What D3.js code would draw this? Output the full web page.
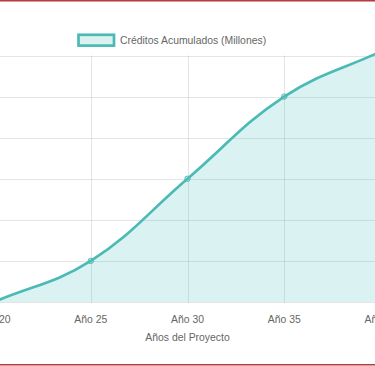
<html>

<head>
    <meta charset="utf-8">
    <script src="https://cdnjs.cloudflare.com/ajax/libs/d3/7.8.5/d3.min.js"></script>
    <style>
        body { margin: 0; background: #fff; }
        svg { display: block; }
    </style>
</head>

<body>
    <script>
        // data
        var years = ["Año 20", "Año 25", "Año 30", "Año 35", "Año 40"];
        var credits = [0, 10, 30, 50, 61];
        var yTicks = [0, 10, 20, 30, 40, 50, 60];
        var seriesName = "Créditos Acumulados (Millones)";
        var xTitle = "Años del Proyecto";

        window.onload = function () {

            var w = 375,
                h = 366;

            var line = "rgb(75,186,180)",
                fill = "rgba(75,192,192,0.2)",
                grid = "rgba(0,0,0,0.1)",
                textCol = "#666",
                font = "Liberation Sans, Arial, Helvetica, sans-serif",
                fs = "10.4px";

            var svg = d3.select("body")
                .append("svg")
                .attr("width", w)
                .attr("height", h);

            var x = d3.scalePoint()
                .domain(years)
                .range([-6, 381]);

            var y = d3.scaleLinear()
                .domain([0, 60])
                .range([302, 55.5]);

            // horizontal grid
            svg.selectAll("line.hgrid")
                .data(yTicks)
                .enter()
                .append("line")
                .attr("class", "hgrid")
                .attr("x1", 0)
                .attr("x2", w)
                .attr("y1", function (d) { return Math.round(y(d)) + 0.5; })
                .attr("y2", function (d) { return Math.round(y(d)) + 0.5; })
                .style("stroke", grid)
                .style("stroke-width", 1);

            // vertical grid
            svg.selectAll("line.vgrid")
                .data(years)
                .enter()
                .append("line")
                .attr("class", "vgrid")
                .attr("x1", function (d) { return Math.round(x(d)) + 0.5; })
                .attr("x2", function (d) { return Math.round(x(d)) + 0.5; })
                .attr("y1", y(60))
                .attr("y2", y(0) + 1)
                .style("stroke", grid)
                .style("stroke-width", 1);

            // points in pixels
            var pts = years.map(function (d, i) {
                return { x: x(d), y: y(credits[i]) };
            });

            // chart.js style spline, tension 0.4
            var t = 0.4;
            pts.forEach(function (p, i) {
                var p0 = pts[i - 1] || p,
                    p2 = pts[i + 1] || p;
                var d01 = Math.hypot(p.x - p0.x, p.y - p0.y),
                    d12 = Math.hypot(p2.x - p.x, p2.y - p.y);
                var s01 = d01 / (d01 + d12) || 0,
                    s12 = d12 / (d01 + d12) || 0;
                var fa = t * s01,
                    fb = t * s12;
                p.cpPrev = { x: p.x - fa * (p2.x - p0.x), y: p.y - fa * (p2.y - p0.y) };
                p.cpNext = { x: p.x + fb * (p2.x - p0.x), y: p.y + fb * (p2.y - p0.y) };
            });

            var path = d3.path();
            path.moveTo(pts[0].x, pts[0].y);
            for (var i = 1; i < pts.length; i++) {
                var a = pts[i - 1], b = pts[i];
                path.bezierCurveTo(a.cpNext.x, a.cpNext.y, b.cpPrev.x, b.cpPrev.y, b.x, b.y);
            }
            var linePath = path.toString();
            var areaPath = linePath + "L" + pts[pts.length - 1].x + "," + y(0) +
                "L" + pts[0].x + "," + y(0) + "Z";

            svg.append("path")
                .attr("d", areaPath)
                .style("fill", fill)
                .style("stroke", "none");

            svg.append("path")
                .attr("d", linePath)
                .style("fill", "none")
                .style("stroke", line)
                .style("stroke-width", 2.7);

            svg.selectAll("circle")
                .data(pts)
                .enter()
                .append("circle")
                .attr("cx", function (d) { return d.x; })
                .attr("cy", function (d) { return d.y; })
                .attr("r", 2.7)
                .style("fill", fill)
                .style("stroke", line)
                .style("stroke-width", 1);

            // x tick labels
            svg.selectAll("text.tick")
                .data(years)
                .enter()
                .append("text")
                .attr("class", "tick")
                .attr("x", function (d) { return x(d); })
                .attr("y", 323)
                .attr("text-anchor", "middle")
                .style("font-family", font)
                .style("font-size", fs)
                .style("fill", textCol)
                .text(function (d) { return d; });

            svg.append("text")
                .attr("x", 187.5)
                .attr("y", 341)
                .attr("text-anchor", "middle")
                .style("font-family", font)
                .style("font-size", fs)
                .style("fill", textCol)
                .text(xTitle);

            // legend
            svg.append("rect")
                .attr("x", 78.5)
                .attr("y", 34.8)
                .attr("width", 35.5)
                .attr("height", 10.8)
                .style("fill", fill)
                .style("stroke", line)
                .style("stroke-width", 2.7);

            svg.append("text")
                .attr("x", 120)
                .attr("y", 44)
                .style("font-family", font)
                .style("font-size", fs)
                .style("fill", textCol)
                .text(seriesName);

            // red frame lines top and bottom
            svg.append("rect").attr("x", 0).attr("y", 0).attr("width", w).attr("height", 1.5)
                .style("fill", "#b83a3a");
            svg.append("rect").attr("x", 0).attr("y", 364).attr("width", w).attr("height", 1.5)
                .style("fill", "#b83a3a");
        }
    </script>
</body>

</html>
